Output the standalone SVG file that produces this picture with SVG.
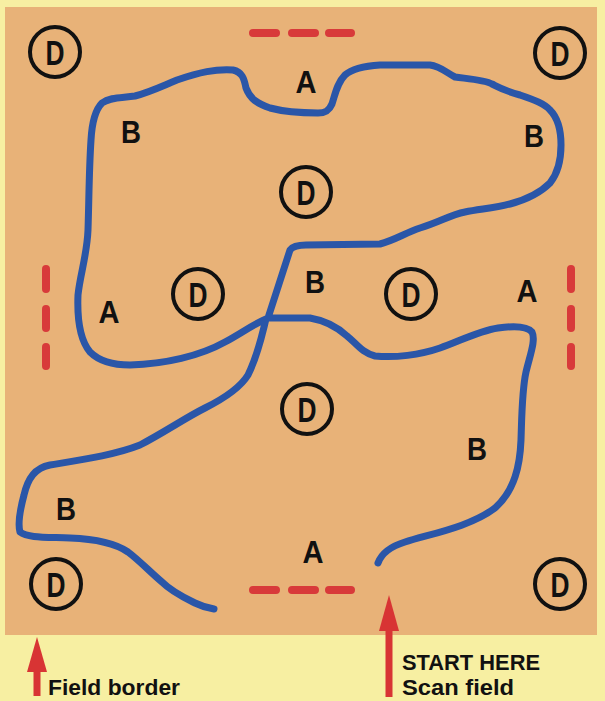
<svg xmlns="http://www.w3.org/2000/svg" width="605" height="701" viewBox="0 0 605 701">
<style>
.bg{fill:#f7efa2}
.field{fill:#e8b278}
.dash{stroke:#d83a3a;stroke-width:8;stroke-linecap:round;fill:none}
.circ{fill:none;stroke:#111;stroke-width:4}
.d{font-family:"Liberation Sans Narrow","Liberation Sans",Arial,sans-serif;font-weight:bold;font-size:35px;fill:#111;text-anchor:middle}
.lbl{font-family:"Liberation Sans",Arial,sans-serif;font-weight:bold;font-size:32px;fill:#111;text-anchor:middle}
.cap{font-family:"Liberation Sans Narrow","Liberation Sans",Arial,sans-serif;font-weight:bold;font-size:22px;fill:#111}
.route{fill:none;stroke:#2a56a8;stroke-width:7;stroke-linecap:round;stroke-linejoin:round}
.arrow{fill:#d83434}
</style>
<rect class="bg" x="0" y="0" width="605" height="701"/>
<rect id="field" class="field" x="5" y="7" width="592" height="628"/>

<g id="borders">
  <path class="dash" d="M253,33 H276 M292,33 H315 M329,33 H351"/>
  <path class="dash" d="M253,590 H276 M292,590 H315 M329,590 H351"/>
  <path class="dash" d="M46,269 V289 M46,309 V328 M46,347 V366"/>
  <path class="dash" d="M571,269 V289 M571,309 V328 M571,347 V366"/>
</g>

<g id="connectors">
  <path class="route" d="M378,563 C382,552 392,546 405,542 C430,534 470,527 495,508 C515,490 520,465 521,440 C522,410 522,390 526,372 C530,355 536,340 532,332 C527,326 512,326 498,328 C478,331 458,342 440,348 C420,355 395,358 375,356 C362,353 356,343 347,336 C335,325 322,320 310,318 L268,318 L290,250 C293,246 298,245 306,245 L380,244 C395,240 405,233 420,228 C440,222 450,215 465,212 C480,209 495,208 510,204 C525,200 540,193 550,183 C558,173 561,160 561,145 C561,130 558,118 550,110 C545,104 535,100 520,95 C505,91 500,88 492,84 C485,80 470,79 455,77 C447,73 440,66 430,65 L380,65 C365,66 352,69 345,75 C337,83 335,95 332,104 C329,111 325,113 318,113 C300,113 285,112 270,108 C258,104 250,99 246,88 C244,78 242,72 233,70 C215,69 200,72 177,80 C160,87 150,92 135,96 C122,98 110,97 102,103 C95,110 92,122 91,140 C89,170 89,200 88,230 C87,255 80,275 78,295 C77,320 80,340 90,352 C100,362 115,365 130,365 C165,364 200,356 225,342 C240,334 252,325 266,319 C262,335 258,355 248,375 C240,388 225,398 205,408 C185,418 165,432 140,445 C115,455 80,460 50,465 C35,468 28,478 24,495 C20,510 18,525 20,532 C28,538 45,537 70,538 C95,539 115,543 128,552 C140,561 150,572 162,582 C172,592 185,598 195,603 C203,607 208,608 214,609"/>
</g>

<g id="d-top-left"><circle class="circ" cx="55" cy="52" r="25"/><text class="d" x="55" y="65" textLength="19" lengthAdjust="spacingAndGlyphs">D</text></g>
<g id="d-top-right"><circle class="circ" cx="560" cy="53" r="25"/><text class="d" x="560" y="66" textLength="19" lengthAdjust="spacingAndGlyphs">D</text></g>
<g id="d-center-top"><circle class="circ" cx="306" cy="192" r="25"/><text class="d" x="306" y="205" textLength="19" lengthAdjust="spacingAndGlyphs">D</text></g>
<g id="d-mid-left"><circle class="circ" cx="198" cy="294" r="25"/><text class="d" x="198" y="307" textLength="19" lengthAdjust="spacingAndGlyphs">D</text></g>
<g id="d-mid-right"><circle class="circ" cx="411" cy="294" r="25"/><text class="d" x="411" y="307" textLength="19" lengthAdjust="spacingAndGlyphs">D</text></g>
<g id="d-center-low"><circle class="circ" cx="307" cy="409" r="25"/><text class="d" x="307" y="422" textLength="19" lengthAdjust="spacingAndGlyphs">D</text></g>
<g id="d-bottom-left"><circle class="circ" cx="56" cy="584" r="25"/><text class="d" x="56" y="597" textLength="19" lengthAdjust="spacingAndGlyphs">D</text></g>
<g id="d-bottom-right"><circle class="circ" cx="560" cy="584" r="25"/><text class="d" x="560" y="597" textLength="19" lengthAdjust="spacingAndGlyphs">D</text></g>

<g id="zone-labels">
  <text class="lbl" x="306" y="93" textLength="21" lengthAdjust="spacingAndGlyphs">A</text>
  <text class="lbl" x="131" y="143" textLength="20" lengthAdjust="spacingAndGlyphs">B</text>
  <text class="lbl" x="534" y="147" textLength="20" lengthAdjust="spacingAndGlyphs">B</text>
  <text class="lbl" x="109" y="323" textLength="21" lengthAdjust="spacingAndGlyphs">A</text>
  <text class="lbl" x="315" y="293" textLength="20" lengthAdjust="spacingAndGlyphs">B</text>
  <text class="lbl" x="527" y="302" textLength="21" lengthAdjust="spacingAndGlyphs">A</text>
  <text class="lbl" x="477" y="460" textLength="20" lengthAdjust="spacingAndGlyphs">B</text>
  <text class="lbl" x="66" y="520" textLength="20" lengthAdjust="spacingAndGlyphs">B</text>
  <text class="lbl" x="313" y="563" textLength="21" lengthAdjust="spacingAndGlyphs">A</text>
</g>

<g id="field-border-note">
  <rect class="arrow" x="33.5" y="668" width="7" height="28"/>
  <polygon class="arrow" points="37,637 27,672 47,672"/>
  <text class="cap" x="48" y="695" textLength="132" lengthAdjust="spacingAndGlyphs">Field border</text>
</g>
<g id="start-note">
  <rect class="arrow" x="385.5" y="626" width="7" height="71"/>
  <polygon class="arrow" points="389,595 379,631 399,631"/>
  <text class="cap" x="402" y="670" textLength="138" lengthAdjust="spacingAndGlyphs">START HERE</text>
  <text class="cap" x="402" y="695" textLength="112" lengthAdjust="spacingAndGlyphs">Scan field</text>
</g>
</svg>
